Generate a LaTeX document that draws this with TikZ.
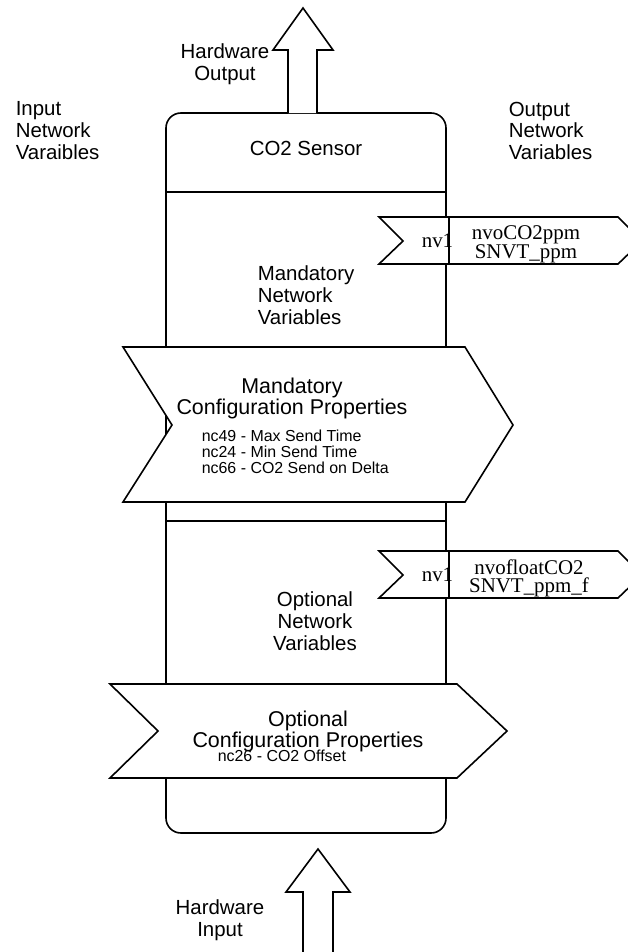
\documentclass[tikz,border=0pt]{standalone}
\usepackage{fontspec}
\setmainfont{Liberation Serif}
\setsansfont{Liberation Sans}
\begin{document}
\begin{tikzpicture}[x=1bp, y=-1bp, line width=1.6bp,
    big/.style={inner sep=0pt, font=\sffamily\fontsize{20.5}{22}\selectfont},
    cfg/.style={inner sep=0pt, font=\sffamily\fontsize{21.5}{19.5}\selectfont, align=center},
    small/.style={inner sep=0pt, font=\sffamily\fontsize{16}{16}\selectfont, align=left},
    nvtxt/.style={inner sep=0pt, font=\rmfamily\fontsize{21}{18.5}\selectfont, align=center},
    outline/.style={draw, fill=white, line join=miter}]
    \clip (0,0) rectangle (628,952);
    % sensor block
    \coordinate (TL) at (166,113) ;
    \coordinate (BR) at (446,833) ;
    \draw[rounded corners=15] (TL) rectangle (BR);
    \draw (166,192) -- (446,192);
    \draw (166,521) -- (446,521);
    % configuration properties
    \draw[outline] (123,347) -- (465,347) -- (513,425) -- (465,502) -- (123,502) -- (172,425) -- cycle;
    \draw[outline] (110,684) -- (457,684) -- (507,731) -- (457,778) -- (110,778) -- (158,731) -- cycle;
    % network variables
    \draw[outline] (379,217) -- (618,217) -- (642,241) -- (618,264) -- (379,264) -- (403,241) -- cycle;
    \node[nvtxt, anchor=base west] (nvA) at (421,247) {nv1};
    \draw (449,217) -- (449,264);
    \draw[outline] (379,551) -- (618,551) -- (642,575) -- (618,598) -- (379,598) -- (403,575) -- cycle;
    \node[nvtxt, anchor=base west] (nvB) at (421,581) {nv1};
    \draw (449,551) -- (449,598);
    % hardware arrows
    \draw[outline] (288,113) -- (288,50) -- (273,50) -- (303,8) -- (333,50) -- (317,50) -- (317,113);
    \draw[outline] (303,960) -- (303,892) -- (286,892) -- (318,849) -- (350,892) -- (333,892) -- (333,960);
    % labels
    \node[big, align=left, anchor=north west] (innv) at (15,101) {Input\\Network\\Varaibles};
    \node[big, align=left, anchor=north west] (outnv) at (508,101) {Output\\Network\\Variables};
    \node[big, align=center, anchor=north] (hwout) at (225,43) {Hardware\\Output};
    \node[big, anchor=north] (title) at (306,140) {CO2 Sensor};
    \node[big, align=left, anchor=north west] (mandnv) at (257,265) {Mandatory\\Network\\Variables};
    \node[nvtxt, anchor=north] (nvoA) at (526,225) {nvoCO2ppm\\SNVT\_ppm};
    \node[cfg, anchor=north] (mandcp) at (292,377) {Mandatory\\Configuration Properties};
    \node[small, anchor=north west] (mandlist) at (201,429) {nc49 - Max Send Time\\nc24 - Min Send Time\\nc66 - CO2 Send on Delta};
    \node[nvtxt, anchor=north] (nvoB) at (529,559) {nvofloatCO2\\SNVT\_ppm\_f};
    \node[big, align=center, anchor=north] (optnv) at (315,591) {Optional\\Network\\Variables};
    \node[cfg, anchor=north] (optcp) at (308,710) {Optional\\Configuration Properties};
    \node[small, anchor=north west] (optlist) at (217,749) {nc26 - CO2 Offset};
    \node[big, align=center, anchor=north] (hwin) at (220,899) {Hardware\\Input};
\end{tikzpicture}
\end{document}
